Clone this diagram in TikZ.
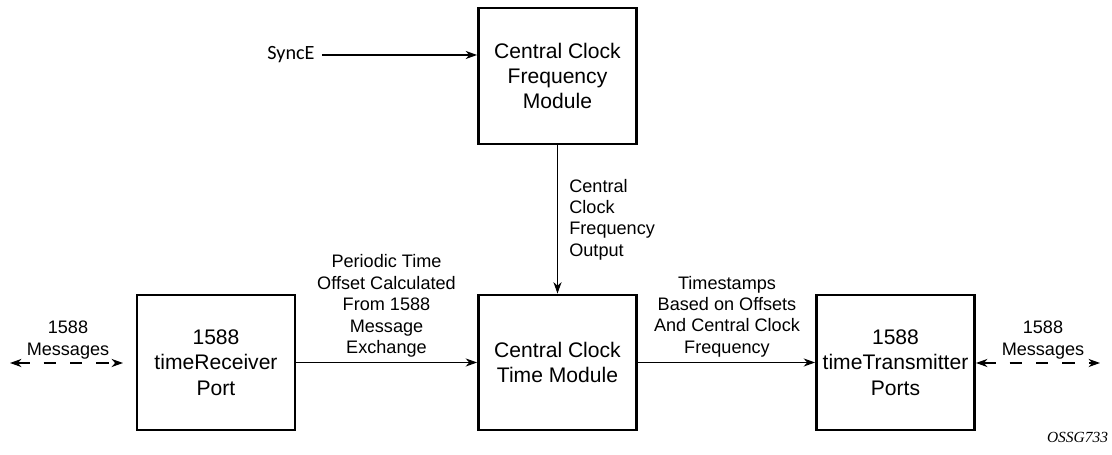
\documentclass[tikz,border=0pt]{standalone}
\usepackage{fontspec}
\setmainfont{Liberation Sans}
\newfontfamily\syncfont{Carlito}
\newfontfamily\tagfont{Liberation Serif}
\usetikzlibrary{arrows.meta}
\begin{document}
\begin{tikzpicture}[
    blockbox/.style={rectangle, draw=black, line width=1.6pt, minimum width=3.16cm, minimum height=2.7cm, align=center, font=\fontsize{12}{14.4}\selectfont},
    lbl/.style={align=center, font=\fontsize{10.3}{12.2}\selectfont, inner sep=0pt},
    flow/.style={line width=0.75pt, -{Stealth[length=6.5pt, width=4.6pt, inset=2pt]}},
    msgflow/.style={line width=0.75pt, dash pattern=on 7pt off 8pt, {Stealth[length=6.5pt, width=4.6pt, inset=2pt]}-{Stealth[length=6.5pt, width=4.6pt, inset=2pt]}}]
    \useasboundingbox (0,0) rectangle (22.24,9.1);
    % blocks
    \node[blockbox, minimum height=2.72cm](freqBox) at (11.15,7.58){Central Clock\\Frequency\\Module};
    \node[blockbox](timeBox) at (11.15,1.85){Central Clock\\Time Module};
    \node[blockbox](rcvBox) at (4.32,1.85){1588\\timeReceiver\\Port};
    \node[blockbox](txBox) at (17.91,1.85){1588\\timeTransmitter\\Ports};
    % inputs
    \node[inner ysep=1pt, inner xsep=4pt, font=\syncfont\fontsize{11.5}{13}\selectfont](syncE) at (5.82,8.0){SyncE};
    \draw[flow] (syncE.east) -- (syncE.east -| freqBox.west);
    \draw[flow] (freqBox.south) -- (timeBox.north);
    \draw[flow] (rcvBox.east) -- (timeBox.west);
    \draw[flow] (timeBox.east) -- (txBox.west);
    % 1588 messages
    \coordinate(msgLeftA) at (0.2,1.84);
    \coordinate(msgLeftB) at (2.46,1.84);
    \coordinate(msgRightA) at (19.52,1.84);
    \coordinate(msgRightB) at (22.0,1.84);
    \draw[msgflow] (msgLeftA) -- (msgLeftB);
    \draw[msgflow] (msgRightA) -- (msgRightB);
    % labels
    \node[lbl](msgLeftLabel) at (1.36,2.3){1588\\Messages};
    \node[lbl](msgRightLabel) at (20.86,2.3){1588\\Messages};
    \node[lbl](offsetLabel) at (7.73,2.98){Periodic Time\\Offset Calculated\\From 1588\\Message\\Exchange};
    \node[lbl](stampLabel) at (14.54,2.77){Timestamps\\Based on Offsets\\And Central Clock\\Frequency};
    \node[lbl, anchor=west, align=left](outLabel) at (11.38,4.71){Central\\Clock\\Frequency\\Output};
    \node[inner sep=0pt, font=\tagfont\itshape\fontsize{8.8}{10}\selectfont](tagLabel) at (21.55,0.36){OSSG733};
\end{tikzpicture}
\end{document}
